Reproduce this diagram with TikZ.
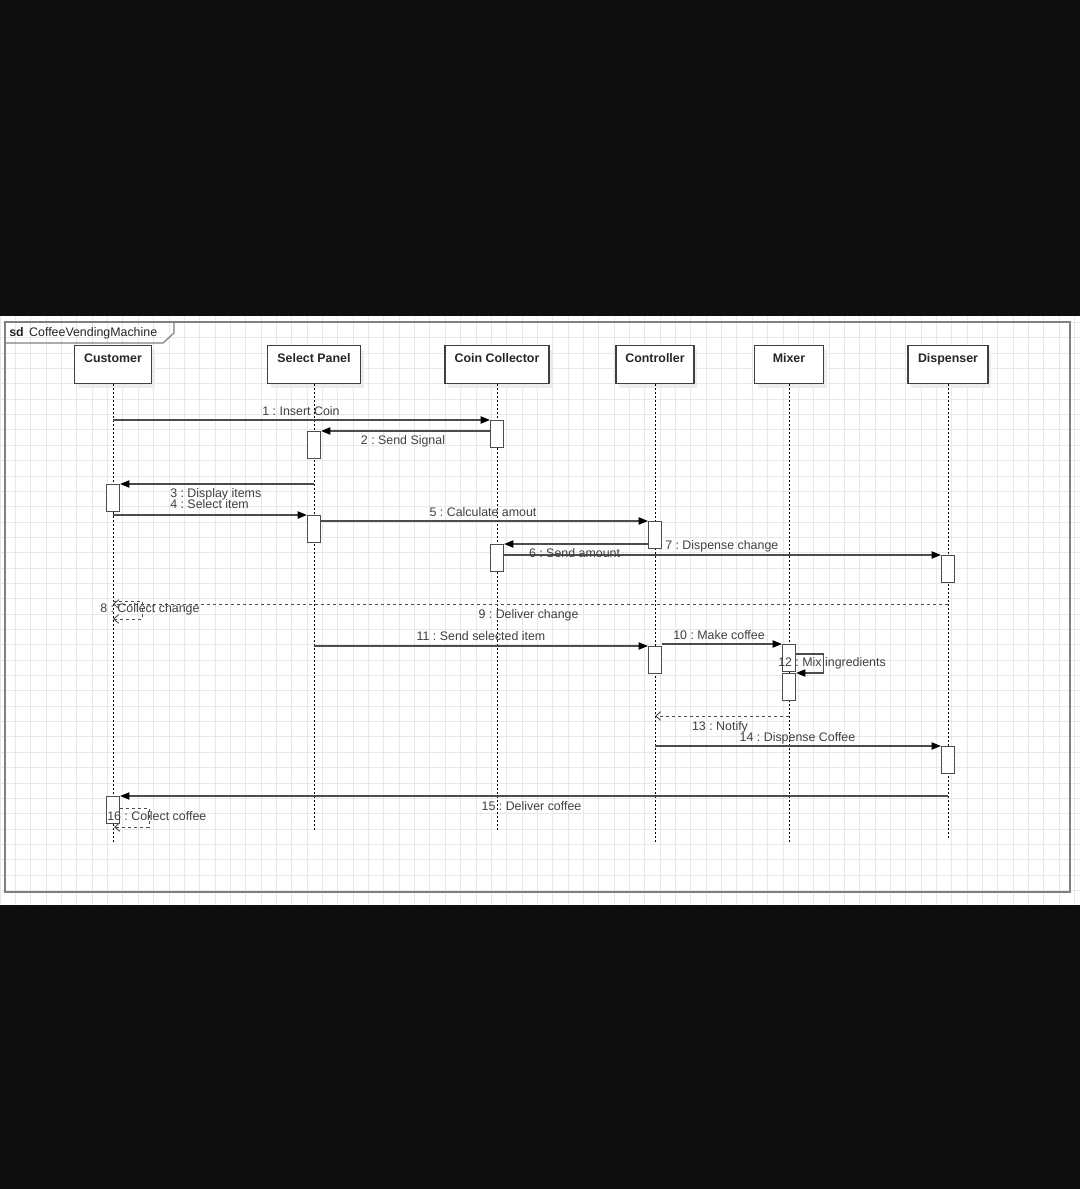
\documentclass[tikz,border=0pt]{standalone}
\usepackage{fontspec}
\setmainfont{Liberation Sans}
\usetikzlibrary{%
	arrows.meta,%
	shadows%
}
\frenchspacing
\definecolor{dark-bg}{rgb}{0.055, 0.055, 0.055}
\definecolor{grid-grey}{rgb}{0.91, 0.91, 0.91}
\definecolor{frame-grey}{rgb}{0.5, 0.5, 0.5}
\definecolor{msg-grey}{rgb}{0.3, 0.3, 0.3}
\definecolor{text-grey}{rgb}{0.25, 0.25, 0.25}

\begin{document}
\begin{tikzpicture}[x=0.75pt,y=-0.75pt,
		every node/.style={font=\fontsize{9.3}{11}\selectfont, text=text-grey},
		head/.style={draw=black!75, line width=0.9pt, fill=white, anchor=north,
			minimum height=28.5pt, inner xsep=0pt, inner ysep=2.25pt,
			text height=10.5pt, text depth=13.5pt, text=black!85,
			font=\fontsize{9.3}{11}\selectfont\bfseries,
			general shadow={draw=none, fill=black!7, shadow xshift=2.5pt, shadow yshift=-3.5pt}},
		act/.style={draw=black!70, line width=0.9pt, fill=white, anchor=north,
			minimum width=9.75pt, minimum height=20.25pt, inner sep=0pt},
		lifeline/.style={black, line width=0.6pt, dash pattern=on 1.5pt off 1.5pt},
		msg/.style={msg-grey, line width=0.9pt, -{Triangle[length=7pt,width=5.5pt,color=black]}},
		ret/.style={msg-grey, line width=0.7pt, dash pattern=on 2.25pt off 2.25pt,
			-{Straight Barb[length=3.75pt,width=6.5pt]}},
		lbl/.style={anchor=base, inner sep=0pt}
	]
	\useasboundingbox (0,0) rectangle (1080,1189);

	% Screen, sheet and grid
	\fill[dark-bg] (0,0) rectangle (1080,1189);
	\fill[white] (0,316) rectangle (1080,905);
	\draw[grid-grey, line width=0.5pt, step=11.5125pt] (0,905) grid (1080,316);

	% Frame with its name tab
	\draw[frame-grey, line width=1.2pt] (5,322) rectangle (1070,892);
	\draw[frame-grey, line width=0.9pt] (5,343) -- (163,343) -- (174,333) -- (174,322);
	\node[lbl, anchor=base west, text=black!85] (title) at (9,336.5) {\textbf{sd}\hspace{4.1pt}CoffeeVendingMachine};

	% Lifeline heads
	\node[head, minimum width=57.75pt] (cust) at (113,345) {Customer};
	\node[head, minimum width=69.75pt] (panel) at (314,345) {Select Panel};
	\node[head, minimum width=78pt] (coin) at (497,345) {Coin Collector};
	\node[head, minimum width=58.5pt] (ctrl) at (655,345) {Controller};
	\node[head, minimum width=51.75pt] (mixer) at (789,345) {Mixer};
	\node[head, minimum width=60pt] (disp) at (948,345) {Dispenser};

	% Lifelines
	\coordinate (cust-end) at (113,843);
	\coordinate (panel-end) at (314,832);
	\coordinate (coin-end) at (497,832);
	\coordinate (ctrl-end) at (655,844);
	\coordinate (mixer-end) at (789,844);
	\coordinate (disp-end) at (948,838);
	\draw[lifeline] (cust.south) -- (cust-end);
	\draw[lifeline] (panel.south) -- (panel-end);
	\draw[lifeline] (coin.south) -- (coin-end);
	\draw[lifeline] (ctrl.south) -- (ctrl-end);
	\draw[lifeline] (mixer.south) -- (mixer-end);
	\draw[lifeline] (disp.south) -- (disp-end);

	% Activations
	\node[act] (coin-a1) at (497,420) {};
	\node[act] (panel-a1) at (314,431) {};
	\node[act] (cust-a1) at (113,484) {};
	\node[act] (panel-a2) at (314,515) {};
	\node[act] (ctrl-a1) at (655,521) {};
	\node[act] (coin-a2) at (497,544) {};
	\node[act] (disp-a1) at (948,555) {};
	\node[act] (mixer-a1) at (789,644) {};
	\node[act] (ctrl-a2) at (655,646) {};
	\node[act] (mixer-a2) at (789,673) {};
	\node[act] (disp-a2) at (948,746) {};
	\node[act] (cust-a2) at (113,796) {};

	% Messages
	\coordinate (row8) at (0,601);
	\coordinate (row9) at (0,604);
	\coordinate (row12) at (0,654);
	\coordinate (row13) at (0,716);
	\coordinate (row16) at (0,808);
	\draw[msg] (cust |- coin-a1.north) -- (coin-a1.north west);
	\draw[msg] (coin-a1.west |- panel-a1.north) -- (panel-a1.north east);
	\draw[msg] (panel |- cust-a1.north) -- (cust-a1.north east);
	\draw[msg] (cust |- panel-a2.north) -- (panel-a2.north west);
	\draw[msg] (panel-a2.east |- ctrl-a1.north) -- (ctrl-a1.north west);
	\draw[msg] (ctrl-a1.west |- coin-a2.north) -- (coin-a2.north east);
	\draw[msg] (coin-a2.east |- disp-a1.north) -- (disp-a1.north west);
	\draw[ret] (cust |- row8) -- ++(29,0) -- ++(0,18) -- ++(-29,0);
	\draw[ret] (disp |- row9) -- (cust |- row9);
	\draw[msg] (panel |- ctrl-a2.north) -- (ctrl-a2.north west);
	\draw[msg] (ctrl-a2.east |- mixer-a1.north) -- (mixer-a1.north west);
	\draw[msg] (mixer-a1.east |- row12) -- ++(27,0) |- (mixer-a2.north east);
	\draw[ret] (mixer |- row13) -- (ctrl |- row13);
	\draw[msg] (ctrl |- disp-a2.north) -- (disp-a2.north west);
	\draw[msg] (disp |- cust-a2.north) -- (cust-a2.north east);
	\draw[ret] (cust-a2.east |- row16) -- ++(29,0) -- ++(0,19) -- ++(-35,0);

	% Message labels
	\node[lbl] (l1) at (301,415) {1 : Insert Coin};
	\node[lbl] (l2) at (403,444.5) {2 : Send Signal};
	\node[lbl, anchor=base west] (l3) at (170,497) {3 : Display items};
	\node[lbl, anchor=base west] (l4) at (170,508.5) {4 : Select item};
	\node[lbl] (l5) at (483,516) {5 : Calculate amout};
	\node[lbl] (l6) at (574.5,557) {6 : Send amount};
	\node[lbl, anchor=base west] (l7) at (665,549) {7 : Dispense change};
	\node[lbl, anchor=base west] (l8) at (100,612.5) {8 : Collect change};
	\node[lbl] (l9) at (528.5,618) {9 : Deliver change};
	\node[lbl] (l11) at (481,640.5) {11 : Send selected item};
	\node[lbl] (l10) at (719,639) {10 : Make coffee};
	\node[lbl, anchor=base west] (l12) at (778,666.5) {12 : Mix ingredients};
	\node[lbl] (l13) at (720,730.5) {13 : Notify};
	\node[lbl] (l14) at (797.5,741) {14 : Dispense Coffee};
	\node[lbl] (l15) at (531.5,810) {15 : Deliver coffee};
	\node[lbl, anchor=base west] (l16) at (107,820.5) {16 : Collect coffee};

\end{tikzpicture}
\end{document}
